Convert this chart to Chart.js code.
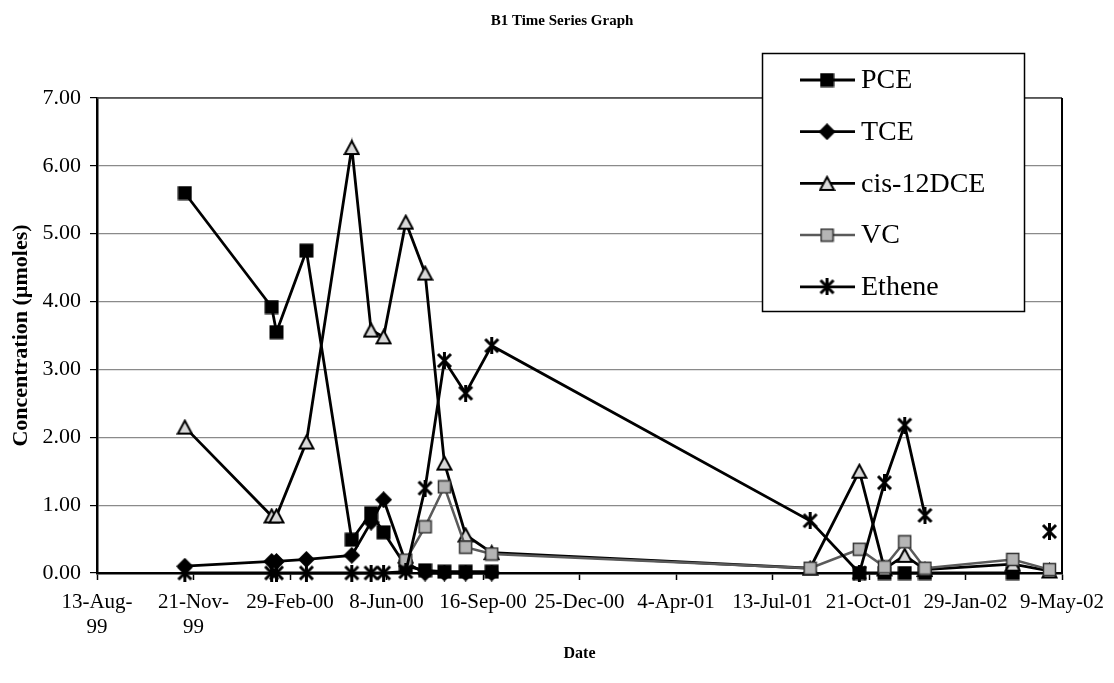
<!DOCTYPE html>
<html>
<head>
<meta charset="utf-8">
<title>B1 Time Series Graph</title>
<script src="https://cdn.jsdelivr.net/npm/chart.js@4.4.1/dist/chart.umd.min.js"></script>
<style>
  html, body { margin: 0; padding: 0; background: #fff; }
</style>
</head>
<body>
<canvas id="chart" width="1114" height="683"></canvas>
<script>
// sampling dates
const sampleDates = [
  "1999-11-12", "2000-02-10", "2000-02-15", "2000-03-17", "2000-05-03",
  "2000-05-23", "2000-06-05", "2000-06-28", "2000-07-18", "2000-08-07",
  "2000-08-29", "2000-09-25", "2001-08-21", "2001-10-11", "2001-11-06",
  "2001-11-27", "2001-12-18", "2002-03-19", "2002-04-26"
];

// concentrations in umoles, one value per sampling date
const pce    = [5.60, 3.92, 3.55, 4.75, 0.49, 0.88, 0.60, 0.10, 0.04, 0.02, 0.02, 0.02, null, 0.00, 0.00, 0.00, 0.00, 0.00, null];
const tce    = [0.10, 0.17, 0.17, 0.20, 0.26, 0.75, 1.08, 0.15, 0.00, 0.00, 0.00, 0.00, null, null, null, null, null, null, null];
const cisDce = [2.15, 0.84, 0.84, 1.93, 6.27, 3.58, 3.48, 5.17, 4.42, 1.62, 0.56, 0.30, 0.07, 1.50, 0.06, 0.26, 0.05, 0.13, 0.03];
const vc     = [null, null, null, null, null, null, null, 0.19, 0.68, 1.27, 0.38, 0.28, 0.07, 0.35, 0.09, 0.46, 0.07, 0.20, 0.05];
const ethene = [0.00, 0.00, 0.00, 0.00, 0.00, 0.00, 0.00, 0.02, 1.25, 3.13, 2.65, 3.35, 0.77, 0.00, 1.33, 2.18, 0.85, null, 0.61];

// axis labels every 100 days from 13-Aug-99
const tickLabels = [
  ["13-Aug-", "99"], ["21-Nov-", "99"], "29-Feb-00", "8-Jun-00", "16-Sep-00",
  "25-Dec-00", "4-Apr-01", "13-Jul-01", "21-Oct-01", "29-Jan-02", "9-May-02"
];

const START = Date.UTC(1999, 7, 13);
function dayOf(s) {
  const [y, m, d] = s.split("-").map(Number);
  return (Date.UTC(y, m - 1, d) - START) / 864e5;
}
const days = sampleDates.map(dayOf);
const pts = vals => vals.map((v, i) => ({ x: days[i], y: v }));

// marker images, drawn once
function marker(size, draw) {
  const c = document.createElement("canvas");
  c.width = size; c.height = size;
  draw(c.getContext("2d"), size);
  return c;
}
const squareMark = marker(15, (g, s) => { g.fillStyle = "#000"; g.fillRect(0.5, 0.5, s - 1, s - 1); });
const diamondMark = marker(17, (g, s) => {
  g.fillStyle = "#000";
  g.beginPath(); g.moveTo(s / 2, 0); g.lineTo(s, s / 2); g.lineTo(s / 2, s); g.lineTo(0, s / 2);
  g.closePath(); g.fill();
});
const triMark = marker(17, (g, s) => {
  g.fillStyle = "#d8d8d8"; g.strokeStyle = "#000"; g.lineWidth = 2;
  g.beginPath(); g.moveTo(s / 2, 2); g.lineTo(s - 1.5, s - 2); g.lineTo(1.5, s - 2);
  g.closePath(); g.fill(); g.stroke();
});
const vcMark = marker(15, (g, s) => {
  g.fillStyle = "#b5b5b5"; g.fillRect(1, 1, s - 2, s - 2);
  g.strokeStyle = "#333"; g.lineWidth = 1.5; g.strokeRect(1.5, 1.5, s - 3, s - 3);
});
const starMark = marker(17, (g, s) => {
  g.strokeStyle = "#000"; g.lineWidth = 3;
  g.beginPath();
  g.moveTo(2, 2); g.lineTo(s - 2, s - 2);
  g.moveTo(s - 2, 2); g.lineTo(2, s - 2);
  g.moveTo(s / 2, 0); g.lineTo(s / 2, s);
  g.stroke();
});

const serif = '"Liberation Serif", "Times New Roman", serif';
Chart.defaults.font.family = serif;
Chart.defaults.color = "#000";

function series(label, vals, mark, color, width, order) {
  return {
    label, data: pts(vals), pointStyle: mark, pointRadius: 7, borderColor: color,
    backgroundColor: color, borderWidth: width, tension: 0, spanGaps: false, clip: false, order
  };
}

const titlePlugin = {
  id: "pageTitle",
  afterDraw(chart) {
    const ctx = chart.ctx;
    ctx.save();
    ctx.font = "bold 15px " + serif;
    ctx.fillStyle = "#000";
    ctx.textAlign = "center";
    ctx.textBaseline = "middle";
    ctx.fillText("B1 Time Series Graph", chart.width / 2 + 5, 21);
    ctx.restore();
  }
};

const frame = {
  id: "frame",
  beforeDatasetsDraw(chart) {
    const { ctx, chartArea: a } = chart;
    ctx.save();
    ctx.strokeStyle = "#444"; ctx.lineWidth = 1.5;
    ctx.beginPath(); ctx.moveTo(a.left, a.top); ctx.lineTo(a.right, a.top); ctx.stroke();
    ctx.strokeStyle = "#000"; ctx.lineWidth = 2;
    ctx.beginPath(); ctx.moveTo(a.right, a.top); ctx.lineTo(a.right, a.bottom); ctx.stroke();
    ctx.restore();
  }
};

const legendBox = {
  id: "legendBox",
  afterDraw(chart) {
    const { ctx, chartArea: a } = chart;
    const left = a.right - 300, top = 53, w = 262, h = 258;
    ctx.save();
    ctx.fillStyle = "#fff"; ctx.fillRect(left, top, w, h);
    ctx.strokeStyle = "#000"; ctx.lineWidth = 1.5; ctx.strokeRect(left + 0.5, top + 0.5, w, h);
    ctx.font = "28px " + serif;
    ctx.textBaseline = "middle";
    ctx.fillStyle = "#000";
    chart.data.datasets.forEach((ds, i) => {
      const y = top + 27 + i * 51.7;
      ctx.strokeStyle = ds.borderColor; ctx.lineWidth = ds.borderWidth;
      ctx.beginPath(); ctx.moveTo(left + 38, y); ctx.lineTo(left + 93, y); ctx.stroke();
      const m = ds.pointStyle;
      ctx.drawImage(m, left + 65 - m.width / 2, y - m.height / 2);
      ctx.fillText(ds.label, left + 99, y + 1);
    });
    ctx.restore();
  }
};

new Chart(document.getElementById("chart").getContext("2d"), {
  type: "line",
  data: {
    datasets: [
      series("PCE", pce, squareMark, "#000", 2.8, 4),
      series("TCE", tce, diamondMark, "#000", 2.8, 3),
      series("cis-12DCE", cisDce, triMark, "#000", 2.8, 2),
      series("VC", vc, vcMark, "#5a5a5a", 2.5, 1),
      series("Ethene", ethene, starMark, "#000", 2.8, 0)
    ]
  },
  options: {
    responsive: false,
    animation: false,
    devicePixelRatio: 1,
    layout: { padding: { left: 8, right: 48, top: 98, bottom: 10 } },
    scales: {
      x: {
        type: "linear",
        min: 0,
        max: 1000,
        afterFit: s => { s.height = 100; },
        border: { color: "#000", width: 2.5 },
        grid: { drawOnChartArea: false, drawTicks: true, tickLength: 7, tickColor: "#000", tickWidth: 1.5 },
        ticks: {
          stepSize: 100,
          maxRotation: 0,
          autoSkip: false,
          padding: 10,
          font: { size: 21 },
          callback: v => tickLabels[Math.round(v / 100)]
        },
        title: { display: true, text: "Date", font: { size: 16, weight: "bold" }, padding: { top: 0, bottom: 10 } }
      },
      y: {
        min: 0,
        max: 7,
        afterFit: s => { s.width = 89; },
        border: { color: "#000", width: 2.5 },
        grid: { color: "#8a8a8a", lineWidth: 1.2, tickLength: 7, tickColor: "#000" },
        ticks: { stepSize: 1, padding: 9, font: { size: 22 }, callback: v => v.toFixed(2) },
        title: { display: true, text: "Concentration (\u00b5moles)", font: { size: 22, weight: "bold" }, padding: 0 }
      }
    },
    plugins: {
      legend: { display: false },
      tooltip: { enabled: false }
    }
  },
  plugins: [frame, titlePlugin, legendBox]
});
</script>
</body>
</html>
